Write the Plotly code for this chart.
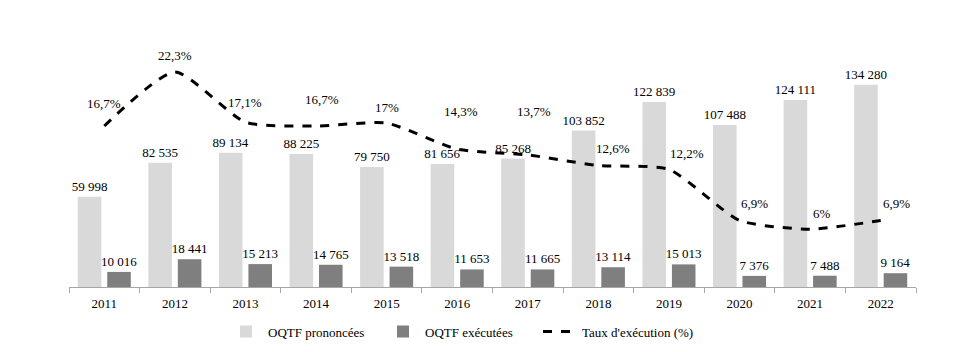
import plotly.graph_objects as go

years = ["2011", "2012", "2013", "2014", "2015", "2016", "2017", "2018", "2019", "2020", "2021", "2022"]
oqtf_prononcees = [59998, 82535, 89134, 88225, 79750, 81656, 85268, 103852, 122839, 107488, 124111, 134280]
oqtf_executees = [10016, 18441, 15213, 14765, 13518, 11653, 11665, 13114, 15013, 7376, 7488, 9164]
taux_execution = [16.7, 22.3, 17.1, 16.7, 17, 14.3, 13.7, 12.6, 12.2, 6.9, 6, 6.9]

# pixel offsets of the rate labels relative to their points (style only)
label_dx = [0, 0, 0, 6, 0, 4, 6, 15, 18, 15, 12, 16]
label_dy = [23, 17, 20, 27, 16, 38, 43, 17, 16, 17, 16, 17]

FONT = "Liberation Serif"


def fmt_int(v):
    return f"{v:,}".replace(",", "\u00a0")


def fmt_pct(v):
    return f"{v:g}".replace(".", ",") + "%"


fig = go.Figure()
fig.add_trace(go.Bar(
    x=years, y=oqtf_prononcees, name="OQTF prononcées",
    marker=dict(color="#d9d9d9", line=dict(width=0)),
    text=[fmt_int(v) for v in oqtf_prononcees], textposition="outside",
    constraintext="none",
    textfont=dict(family=FONT, size=13, color="black"), cliponaxis=False,
))
fig.add_trace(go.Bar(
    x=years, y=oqtf_executees, name="OQTF exécutées",
    marker=dict(color="#7f7f7f", line=dict(width=0)),
    text=[fmt_int(v) for v in oqtf_executees], textposition="outside",
    constraintext="none",
    textfont=dict(family=FONT, size=13, color="black"), cliponaxis=False,
))
fig.add_trace(go.Scatter(
    x=years, y=taux_execution, name="Taux d'exécution (%)", yaxis="y2",
    mode="lines", line=dict(color="black", width=3, dash="dash", shape="spline", smoothing=0.6),
))

for i, (v, dx, dy) in enumerate(zip(taux_execution, label_dx, label_dy)):
    fig.add_annotation(
        x=i, y=v, xref="x", yref="y2", text=fmt_pct(v), showarrow=False,
        xshift=dx, yshift=dy, font=dict(family=FONT, size=13, color="black"),
    )

fig.update_layout(
    width=962, height=352,
    margin=dict(l=69, r=46, t=46, b=65, autoexpand=False),
    paper_bgcolor="white", plot_bgcolor="white",
    barmode="group", bargap=0.165, bargroupgap=0.2,
    font=dict(family=FONT, size=13, color="black"),
    xaxis=dict(
        type="category", range=[-0.5, len(years) - 0.5],
        showline=True, linecolor="#a6a6a6", linewidth=1,
        ticks="outside", tickson="boundaries", ticklen=5, tickcolor="#a6a6a6",
        ticklabelstandoff=4,
        showgrid=False, tickfont=dict(family=FONT, size=13, color="black"),
        automargin=False,
    ),
    yaxis=dict(range=[0, 160000], visible=False, showgrid=False),
    yaxis2=dict(range=[0, 25], overlaying="y", side="right", visible=False, showgrid=False),
    legend=dict(
        orientation="h", x=0.183, xanchor="left", y=-0.185, yanchor="middle",
        font=dict(family=FONT, size=13, color="black"), traceorder="normal",
        itemwidth=34, entrywidth=108, entrywidthmode="pixels",
    ),
    showlegend=True,
)

fig.write_html("out.html")
